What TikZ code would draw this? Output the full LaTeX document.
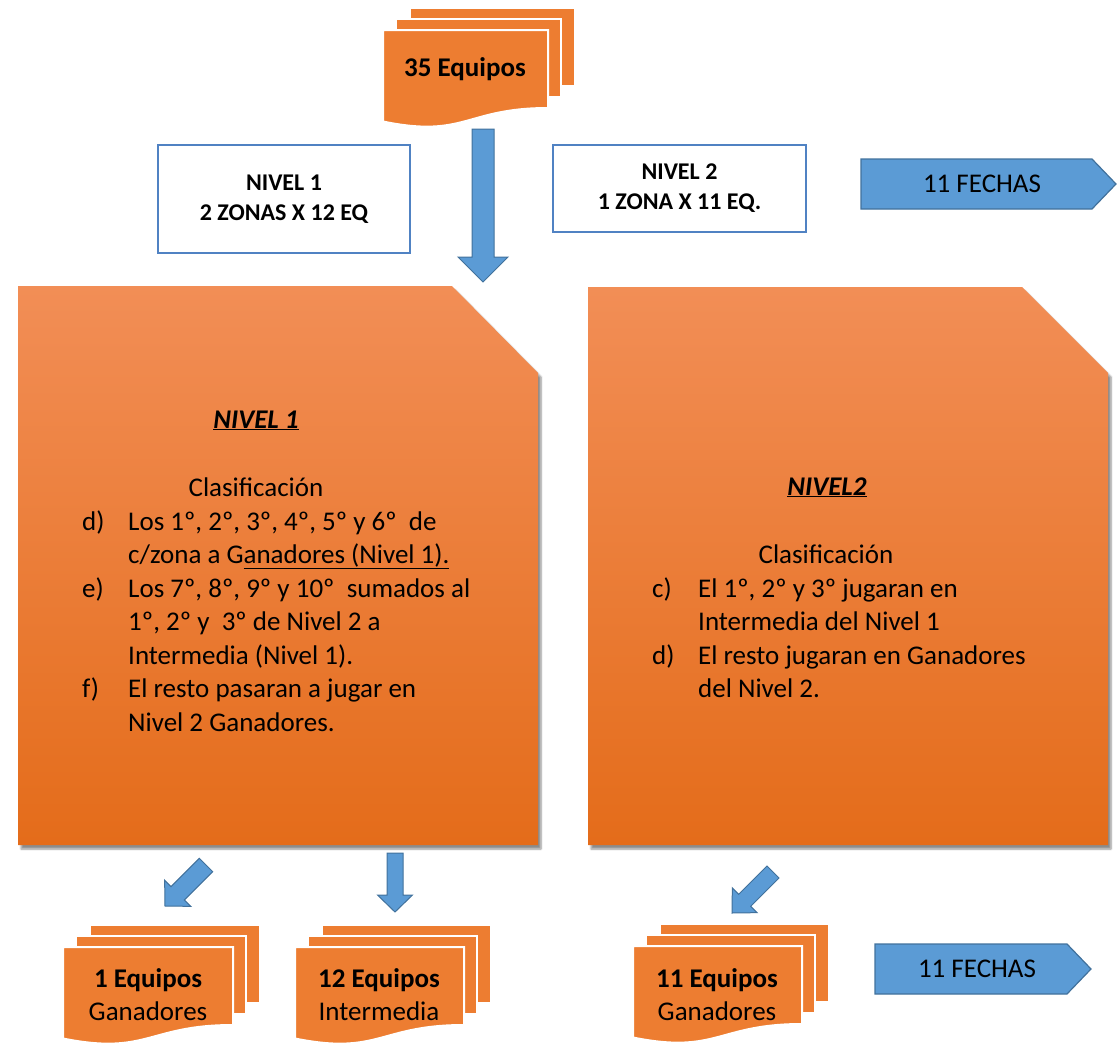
\documentclass[tikz,border=0pt]{standalone}
\usepackage{fontspec}
\setmainfont{Carlito}
\usetikzlibrary{shadows.blur}

\definecolor{pageorange}{RGB}{237,125,49}
\definecolor{snaptop}{RGB}{242,142,86}
\definecolor{snapmid}{RGB}{241,122,44}
\definecolor{snapbot}{RGB}{228,108,26}
\definecolor{arrowblue}{RGB}{91,155,213}
\definecolor{arrowedge}{RGB}{65,113,156}
\definecolor{boxedge}{RGB}{80,130,195}

\tikzset{
  page/.style={fill=pageorange, draw=white, line width=2pt},
  levelbox/.style={draw=boxedge, line width=1.2pt, fill=white, align=center,
    font=\fontsize{24}{30}\selectfont\bfseries, inner sep=0pt},
  snapbox/.style={top color=snaptop, middle color=snapmid, bottom color=snapbot,
    blur shadow={shadow xshift=3pt, shadow yshift=-4pt, shadow blur steps=6, shadow opacity=45}},
  blockarrow/.style={fill=arrowblue, draw=arrowedge, line width=1pt, line join=miter},
  fechasbox/.style={fill=arrowblue, draw=arrowedge, line width=1.2pt, line join=miter},
  big/.style={font=\fontsize{27}{33.5}\selectfont, inner sep=0pt},
}

% tip x, tip y, angle, length, shaft, head width, head length
\newcommand{\blockarrow}[7]{%
  \begin{scope}[shift={(#1,#2)}, rotate=#3]
    \draw[blockarrow] (0,0) -- (-#7,#6/2) -- (-#7,#5/2) -- (-#4,#5/2)
      -- (-#4,-#5/2) -- (-#7,-#5/2) -- (-#7,-#6/2) -- cycle;
  \end{scope}}

% x, y of front page, width
\newcommand{\docstack}[3]{%
  \begin{scope}[shift={(#1,#2)}]
    \path[page] (27,-22) rectangle ++(#3,78);
    \path[page] (13,-11) rectangle ++(#3,78);
    \path[page] (0,0) -- (#3,0) -- (#3,78)
      .. controls (#3*0.5,78) and (#3*0.5,108.5) .. (0,91.5) -- cycle;
  \end{scope}}

\begin{document}
\begin{tikzpicture}[x=1pt, y=-1pt]
    \useasboundingbox (0,0) rectangle (1120,1044);

    % top
    \docstack{383}{30}{165}
    \node[big, anchor=base] (equipos35) at (465,76) {\bfseries 35 Equipos};
    \blockarrow{483}{282}{-90}{153}{22}{50}{25}

    \node[levelbox, minimum width=252pt, minimum height=108pt] (nivel1) at (284,199)
        {NIVEL 1\\2 ZONAS X 12 EQ};
    \node[levelbox, minimum width=253pt, minimum height=87pt] (nivel2) at (679.5,188.5)
        {NIVEL 2\\1 ZONA X 11 EQ.};

    \draw[fechasbox] (861,159) -- (1092,159) -- (1116,184) -- (1092,209) -- (861,209) -- cycle;
    \node[big] (fechas1) at (982,184) {11 FECHAS};

    % big boxes
    \path[snapbox] (18,286) -- (452,286) -- (538,373) -- (538,845) -- (18,845) -- cycle;
    \path[snapbox] (588,287) -- (1022,287) -- (1108,373) -- (1108,845) -- (588,845) -- cycle;

    \node[big, anchor=base] (head1) at (256,428) {\bfseries\itshape\underline{NIVEL 1}};
    \node[big, anchor=base] (clasif1) at (256,496) {Clasificación};
    \node[big, anchor=base west] (reglas1) at (82,530) {%
        \begin{tabular}[t]{@{}p{46pt}@{}l@{}}
        d) & Los 1º, 2º, 3º, 4º, 5º y 6º\ \ de\\
           & c/zona a G\underline{anadores (Nivel 1).}\\
        e) & Los 7º, 8º, 9º y 10º\ \ sumados al\\
           & 1º, 2º y\ \ 3º de Nivel 2 a\\
           & Intermedia (Nivel 1).\\
        f) & El resto pasaran a jugar en\\
           & Nivel 2 Ganadores.
        \end{tabular}};

    \node[big, anchor=base] (head2) at (827,495) {\bfseries\itshape\underline{NIVEL2}};
    \node[big, anchor=base] (clasif2) at (826,563) {Clasificación};
    \node[big, anchor=base west] (reglas2) at (652,597) {%
        \begin{tabular}[t]{@{}p{46pt}@{}l@{}}
        c) & El 1º, 2º y 3º jugaran en\\
           & Intermedia del Nivel 1\\
        d) & El resto jugaran en Ganadores\\
           & del Nivel 2.
        \end{tabular}};

    % bottom
    \blockarrow{165}{906}{-135}{58}{19}{37}{18}
    \blockarrow{395}{912}{-90}{59}{16}{35}{17}
    \blockarrow{732}{913}{-135}{58}{17}{35}{18}

    \docstack{63}{947}{170}
    \docstack{295}{947}{169}
    \docstack{633}{946}{169}

    \node[big, anchor=base] (equipos1) at (148,987) {\bfseries 1 Equipos};
    \node[big, anchor=base] (ganadores1) at (148,1020) {Ganadores};
    \node[big, anchor=base] (equipos12) at (379,987) {\bfseries 12 Equipos};
    \node[big, anchor=base] (intermedia) at (379,1020) {Intermedia};
    \node[big, anchor=base] (equipos11) at (717,987) {\bfseries 11 Equipos};
    \node[big, anchor=base] (ganadores2) at (717,1020) {Ganadores};

    \draw[fechasbox] (875,944) -- (1067,944) -- (1091,969) -- (1067,994) -- (875,994) -- cycle;
    \node[big] (fechas2) at (977,969) {11 FECHAS};
\end{tikzpicture}
\end{document}
